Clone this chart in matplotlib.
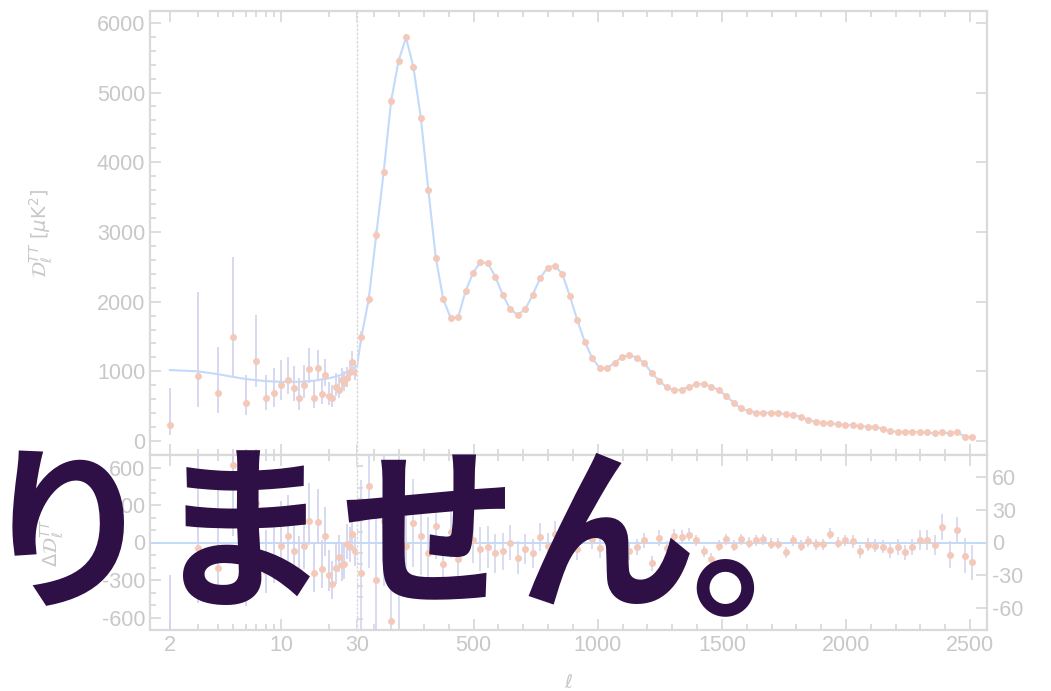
import matplotlib
matplotlib.use("Agg")
import matplotlib.pyplot as plt
from matplotlib.ticker import MultipleLocator, FixedLocator, LogLocator, NullFormatter

plt.rcParams['font.family'] = ['Liberation Sans', 'DejaVu Sans']
plt.rcParams['mathtext.fontset'] = 'dejavusans'
plt.rcParams['axes.unicode_minus'] = False

# ---- low-ell spectrum (unbinned, 2 <= ell < 30) ----
ell_lo = [2, 3, 4, 5, 6, 7, 8, 9, 10, 11, 12, 13, 14, 15,
          16, 17, 18, 19, 20, 21, 22, 23, 24, 25, 26, 27, 28, 29]
dl_lo = [230, 933, 693, 1497, 545, 1148, 622, 693, 803, 875, 765, 615, 803, 1030,
         622, 1043, 679, 947, 646, 615, 780, 736, 875, 833, 900, 995, 1138, 995]
dl_lo_err_minus = [144, 443, 293, 574, 172, 369, 177, 200, 215, 200, 190, 170, 180, 190,
                   150, 180, 150, 160, 130, 120, 130, 120, 130, 120, 120, 120, 130, 120]
dl_lo_err_plus = [530, 1207, 657, 1148, 402, 660, 325, 350, 360, 330, 310, 290, 290, 300,
                  250, 260, 230, 230, 200, 190, 190, 180, 180, 170, 160, 160, 160, 150]
res_lo = [-790, -40, -207, 624, -335, 318, -228, -123, -25, 50, -71, -234, -29, 174,
          -242, 168, -213, 53, -260, -334, -203, -116, -176, -172, -10, -37, 72, -71]

# best-fit model at low ell
model_ell_lo = [2, 3, 4, 5, 6, 8, 10, 13, 16, 20, 24, 27, 30]
model_dl_lo = [1019, 1000, 960, 920, 890, 860, 850, 850, 865, 900, 950, 1010, 1080]

# ---- high-ell binned spectrum (Delta ell = 30) ----
ell_hi = [47.5, 77.5, 107.5, 137.5, 167.5, 197.5, 227.5, 257.5, 287.5, 317.5,
          347.5, 377.5, 407.5, 437.5, 467.5, 497.5, 527.5, 557.5, 587.5, 617.5,
          647.5, 677.5, 707.5, 737.5, 767.5, 797.5, 827.5, 857.5, 887.5, 917.5,
          947.5, 977.5, 1007.5, 1037.5, 1067.5, 1097.5, 1127.5, 1157.5, 1187.5, 1217.5,
          1247.5, 1277.5, 1307.5, 1337.5, 1367.5, 1397.5, 1427.5, 1457.5, 1487.5, 1517.5,
          1547.5, 1577.5, 1607.5, 1637.5, 1667.5, 1697.5, 1727.5, 1757.5, 1787.5, 1817.5,
          1847.5, 1877.5, 1907.5, 1937.5, 1967.5, 1997.5, 2027.5, 2057.5, 2087.5, 2117.5,
          2147.5, 2177.5, 2207.5, 2237.5, 2267.5, 2297.5, 2327.5, 2357.5, 2387.5, 2417.5,
          2447.5, 2477.5, 2507.5]
dl_hi = [1490, 2040, 2955, 3860, 4880, 5455, 5790, 5360, 4630, 3600,
         2630, 2035, 1765, 1780, 2150, 2415, 2570, 2550, 2355, 2095,
         1890, 1810, 1890, 2095, 2335, 2490, 2515, 2395, 2080, 1735,
         1425, 1190, 1050, 1045, 1125, 1205, 1235, 1195, 1120, 975,
         865, 770, 732, 735, 780, 815, 818, 780, 732, 646,
         550, 468, 430, 406, 406, 406, 404, 383, 373, 349,
         301, 277, 263, 254, 239, 230, 228, 215, 205, 203,
         177, 143, 134, 134, 132, 125, 124, 110, 125, 110,
         134, 62, 53]
res_hi = [-28, 52, -34, 20, -72, -25, -3, 18, 6, -10,
          15, -20, 10, -15, 24, 2, -6, -4, -10, -8,
          0, -14, -6, -10, 5, -3, 8, -12, 4, -6,
          15, 3, -5, 6, -2, 7, -8, -4, 2, -19,
          4, -5, 6, 5, 7, 2, -8, -15, -3, 3,
          -3, 3, 0, 2, 3, -1, -1, -9, 2, -3,
          1, -1.5, -1.5, 8, 0, 2, 1, -8, -2, -3,
          -4, -7, -4, -9, -4, 2, 2, -2, 14, -11,
          11, -12, -18]
err_hi = [85, 75, 68, 60, 55, 50, 45, 40, 36, 33,
          30, 26, 24, 23, 22, 21, 20, 19, 18, 17,
          16, 15, 14, 13, 13, 12, 12, 11, 11, 10,
          10, 9, 9, 9, 8, 8, 8, 7, 7, 7,
          7, 6, 6, 6, 6, 5, 5, 5, 5, 5,
          5, 5, 5, 5, 5, 5, 5, 5, 5, 5,
          5, 5, 5, 5, 5, 5, 6, 6, 6, 6,
          6, 7, 7, 7, 7, 9, 9, 9, 12, 12,
          12, 16, 16]

# overlay caption, one glyph per cell (cell centre and baseline in pixels)
caption_chars = ['り', 'ま', 'せ', 'ん', '。']
caption_xc = [68, 242, 428, 607, 779]
caption_base = [594, 594, 594, 594, 602]

# ---- styling ----
c_pt = '#f4c9b9'
c_err = '#d3d5f0'
c_line = '#c2dafb'
c_axis = '#dadada'
c_text = '#c8c8c8'

W, H = 1051, 691
fig = plt.figure(figsize=(W / 100, H / 100), dpi=100)

x0, xs, x1 = 150 / W, 357 / W, 987 / W
y_top, y_mid, y_bot = 1 - 11 / H, 1 - 455 / H, 1 - 630 / H

ax_tl = fig.add_axes([x0, y_mid, xs - x0, y_top - y_mid])
ax_tr = fig.add_axes([xs, y_mid, x1 - xs, y_top - y_mid])
ax_bl = fig.add_axes([x0, y_bot, xs - x0, y_mid - y_bot])
ax_br = fig.add_axes([xs, y_bot, x1 - xs, y_mid - y_bot])

for ax in (ax_tl, ax_tr, ax_bl, ax_br):
    for s in ax.spines.values():
        s.set_color(c_axis)
        s.set_linewidth(1.6)
    ax.tick_params(which='both', direction='in', color=c_axis, labelcolor=c_text,
                   labelsize=15.5, top=True, bottom=True, width=1.3)
    ax.tick_params(which='major', length=8)
    ax.tick_params(which='minor', length=4)

# dotted divider at ell = 30
for ax in (ax_tl, ax_bl):
    ax.spines['right'].set_visible(False)
for ax in (ax_tr, ax_br):
    ax.spines['left'].set_linestyle((0, (1, 2)))
    ax.spines['left'].set_linewidth(1.0)

# left (log) axes
for ax in (ax_tl, ax_bl):
    ax.set_xscale('log')
    ax.set_xlim(1.5, 30)
    ax.xaxis.set_major_locator(FixedLocator([2, 10, 30]))
    ax.xaxis.set_minor_locator(LogLocator(base=10, subs=range(2, 10)))
    ax.xaxis.set_minor_formatter(NullFormatter())
    ax.tick_params(axis='y', left=True, right=False)

# right (linear) axes
for ax in (ax_tr, ax_br):
    ax.set_xlim(30, 2568)
    ax.xaxis.set_major_locator(FixedLocator([500, 1000, 1500, 2000, 2500]))
    ax.xaxis.set_minor_locator(MultipleLocator(100))
    ax.tick_params(axis='y', left=False, right=True)

# top row
for ax in (ax_tl, ax_tr):
    ax.set_ylim(-200, 6170)
    ax.yaxis.set_major_locator(MultipleLocator(1000))
    ax.yaxis.set_minor_locator(MultipleLocator(200))
    ax.tick_params(axis='x', labelbottom=False)
ax_tr.tick_params(axis='y', labelleft=False, labelright=False)
ax_tr.tick_params(axis='y', which='minor', left=False)

ax_tl.plot(model_ell_lo, model_dl_lo, color=c_line, lw=1.5, zorder=2)
ax_tl.errorbar(ell_lo, dl_lo, yerr=[dl_lo_err_minus, dl_lo_err_plus], fmt='o',
               ms=4, color=c_pt, ecolor=c_err, elinewidth=1.3, capsize=0, zorder=3)
ax_tl.set_ylabel(r'$\mathcal{D}^{TT}_{\ell}\ [\mu\mathrm{K}^2]$', color=c_text, fontsize=14,
                 labelpad=30)

ax_tr.plot([model_ell_lo[-1]] + ell_hi, [model_dl_lo[-1]] + dl_hi, color=c_line, lw=1.5, zorder=2)
ax_tr.errorbar(ell_hi, dl_hi, yerr=err_hi, fmt='o', ms=4, color=c_pt, ecolor=c_err,
               elinewidth=1.2, capsize=0, zorder=3)

# bottom row: residuals
ax_bl.set_ylim(-700, 700)
ax_bl.yaxis.set_major_locator(FixedLocator([-600, -300, 0, 300, 600]))
ax_bl.yaxis.set_minor_locator(MultipleLocator(100))
ax_bl.axhline(0, color=c_line, lw=1.4, zorder=2)
ax_bl.errorbar(ell_lo, res_lo, yerr=[dl_lo_err_minus, dl_lo_err_plus], fmt='o',
               ms=4, color=c_pt, ecolor=c_err, elinewidth=1.3, capsize=0, zorder=3)
ax_bl.set_ylabel(r'$\Delta\mathcal{D}^{TT}_{\ell}$', color=c_text, fontsize=14, labelpad=26)
ax_bl.xaxis.set_major_formatter(plt.FuncFormatter(lambda v, p: f'{v:g}'))

ax_br.set_ylim(-80, 80)
ax_br.yaxis.set_major_locator(FixedLocator([-60, -30, 0, 30, 60]))
ax_br.yaxis.set_minor_locator(MultipleLocator(10))
ax_br.tick_params(axis='y', labelleft=False, labelright=True)
ax_br.axhline(0, color=c_line, lw=1.4, zorder=2)
ax_br.errorbar(ell_hi, res_hi, yerr=err_hi, fmt='o', ms=4, color=c_pt, ecolor=c_err,
               elinewidth=1.2, capsize=0, zorder=3)

fig.text((x0 + x1) / 2, 1 - 683 / H, r'$\ell$', color=c_text, fontsize=14,
         ha='center', va='center')

for ch, xc, yb in zip(caption_chars, caption_xc, caption_base):
    fig.text(xc / W, 1 - yb / H, ch, fontsize=128,
             family=['Noto Sans CJK JP', 'DejaVu Sans'], weight='bold',
             color='#2e1046', ha='center', va='baseline', zorder=20)

fig.savefig('out.png', dpi=100)
